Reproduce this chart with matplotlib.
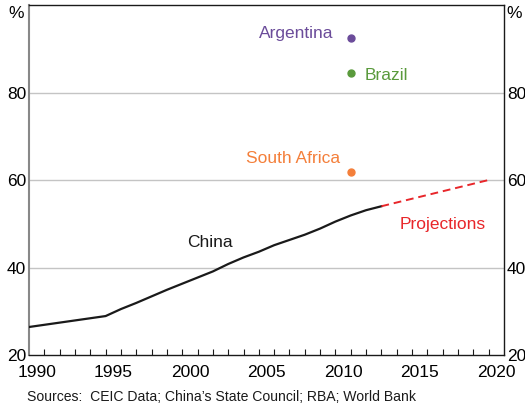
import matplotlib
matplotlib.use("Agg")
import matplotlib.pyplot as plt
import numpy as np

plt.rcParams['font.family'] = ['Liberation Sans', 'DejaVu Sans']

# China urbanisation rate, per cent
china_years = [1990, 1995, 1996, 1997, 1998, 1999, 2000, 2001, 2002, 2003,
               2004, 2005, 2006, 2007, 2008, 2009, 2010, 2011, 2012, 2013]
china_vals = [26.4, 28.9, 30.5, 31.9, 33.4, 34.9, 36.3, 37.7, 39.1, 40.8,
              42.3, 43.6, 45.1, 46.3, 47.5, 48.9, 50.5, 51.9, 53.1, 54.0]

proj_years = [2013, 2020]
proj_vals = [54.0, 60.0]

countries = ['Argentina', 'Brazil', 'South Africa']
country_year = 2011
country_vals = [92.4, 84.5, 61.8]
country_colors = ['#6b4c9a', '#5a9a3c', '#f47f3a']

year_labels = [1990, 1995, 2000, 2005, 2010, 2015, 2020]
y_ticks = [20, 40, 60, 80]

fig = plt.figure(figsize=(5.25, 4.09), dpi=100)
ax = fig.add_axes([29 / 525, 54 / 409, 475 / 525, 350 / 409])

ax.set_xlim(1990, 2021)
ax.set_ylim(20, 100)

for y in y_ticks[1:]:
    ax.axhline(y, color='#c4c4c4', lw=1, zorder=1)

ax.plot(china_years, china_vals, color='#1a1a1a', lw=1.6, zorder=3)
ax.plot(proj_years, proj_vals, color='#e8262a', lw=1.4, ls=(0, (4, 2.5)), zorder=3)

for name, val, col in zip(countries, country_vals, country_colors):
    ax.plot([country_year], [val], 'o', color=col, ms=5, zorder=4)

ax.text(2009.9, 93.4, 'Argentina', color=country_colors[0], fontsize=12.5,
        ha='right', va='center')
ax.text(2011.9, 84.0, 'Brazil', color=country_colors[1], fontsize=12.5,
        ha='left', va='center')
ax.text(2010.3, 64.9, 'South Africa', color=country_colors[2], fontsize=12.5,
        ha='right', va='center')
ax.text(2001.8, 45.8, 'China', color='#1a1a1a', fontsize=12.5,
        ha='center', va='center')
ax.text(2017.0, 49.9, 'Projections', color='#e8262a', fontsize=12.5,
        ha='center', va='center')

# x axis: year ticks at boundaries, labels centred in each year
ax.set_xticks(np.arange(1991, 2021), minor=True)
ax.set_xticks([y + 0.5 for y in year_labels])
ax.set_xticklabels([str(y) for y in year_labels], fontsize=12.5)
ax.tick_params(axis='x', which='minor', direction='in', length=4, width=0.8,
               color='#1a1a1a')
ax.tick_params(axis='x', which='major', length=0, pad=7.5)

# y axis on both sides
ax.set_yticks(y_ticks)
ax.set_yticklabels([str(y) for y in y_ticks], fontsize=12.5)
ax.tick_params(axis='y', length=0, pad=2, left=True, right=True,
               labelleft=True, labelright=True)
ax.text(-0.011, 0.975, '%', transform=ax.transAxes, fontsize=12.5,
        ha='right', va='center')
ax.text(1.006, 0.975, '%', transform=ax.transAxes, fontsize=12.5,
        ha='left', va='center')

ax.spines['left'].set_color('#888888')
ax.spines['left'].set_linewidth(1.5)
for s in ['top', 'right', 'bottom']:
    ax.spines[s].set_color('#1a1a1a')
    ax.spines[s].set_linewidth(1.0)

fig.text(27 / 525, 1 - 397 / 409, 'Sources:  CEIC Data; China\u2019s State Council; RBA; World Bank',
         fontsize=10.1, ha='left', va='center', color='#1a1a1a')

fig.savefig('out.png', dpi=100)
